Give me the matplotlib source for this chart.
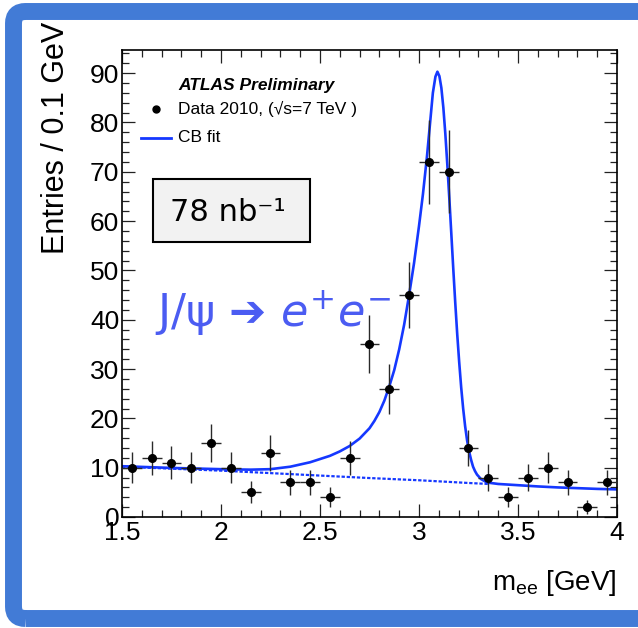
import numpy as np
import matplotlib.pyplot as plt
from matplotlib.patches import FancyBboxPatch, Rectangle
from matplotlib.ticker import MultipleLocator, FuncFormatter

plt.rcParams['font.family'] = ['Liberation Sans', 'DejaVu Sans']
plt.rcParams['mathtext.default'] = 'regular'

# data histogram (bin centres, entries, errors)
m_bins = [1.55, 1.65, 1.75, 1.85, 1.95, 2.05, 2.15, 2.25, 2.35, 2.45, 2.55, 2.65, 2.75,
          2.85, 2.95, 3.05, 3.15, 3.25, 3.35, 3.45, 3.55, 3.65, 3.75, 3.85, 3.95]
entries = [10, 12, 11, 10, 15, 10, 5, 13, 7, 7, 4, 12, 35,
           26, 45, 72, 70, 14, 8, 4, 8, 10, 7, 2, 7]
errors = [3.2, 3.5, 3.3, 3.2, 3.9, 3.2, 2.2, 3.6, 2.6, 2.6, 2.0, 3.5, 5.9,
          5.1, 6.7, 8.5, 8.4, 3.7, 2.8, 2.0, 2.8, 3.2, 2.6, 1.4, 2.6]
bin_half = 0.05

# CB fit curve
fit_m = [1.5, 1.75, 2.0, 2.15, 2.25, 2.35, 2.45, 2.55, 2.6, 2.65, 2.7, 2.75, 2.775,
         2.8, 2.825, 2.85, 2.875, 2.9, 2.925, 2.95, 2.975, 3.0, 3.02, 3.04, 3.055,
         3.07, 3.083, 3.093,
         3.103, 3.113, 3.123, 3.133, 3.143, 3.153, 3.163, 3.173, 3.183, 3.193,
         3.203, 3.213, 3.223, 3.233, 3.243, 3.253, 3.263, 3.273, 3.283, 3.293,
         3.313, 3.343, 3.4, 3.5, 3.6, 3.7, 3.8, 3.9, 4.0]
fit_y = [10.3, 9.95, 9.7, 9.6, 9.7, 10.2, 11.1, 12.4, 13.3, 14.4, 15.9, 18.0, 19.5,
         21.3, 23.6, 26.5, 29.8, 34.0, 39.0, 45.0, 51.5, 59.0, 65.5, 73.0, 79.5,
         86.0, 89.3, 90.3,
         89.4, 87.0, 83.0, 77.7, 71.5, 64.7, 57.6, 50.4, 43.5, 37.1,
         31.4, 26.3, 22.0, 18.4, 15.5, 13.3, 11.6, 10.2, 9.3, 8.6,
         7.7, 7.0, 6.7, 6.45, 6.2, 6.0, 5.85, 5.7, 5.6]

# background component (dotted)
bkg_m = [1.5, 1.75, 2.0, 2.25, 2.5, 2.75, 3.0, 3.25, 3.35]
bkg_y = [10.2, 9.8, 9.4, 8.9, 8.4, 7.9, 7.45, 6.9, 6.7]

fit_col = '#1538ff'

fig = plt.figure(figsize=(6.38, 6.28), dpi=100)

# blue rounded frame round the slide
frame = FancyBboxPatch((0.135, 0.095), 6.8 - 0.135, 6.165 - 0.095,
                       boxstyle="round,pad=0,rounding_size=0.12",
                       transform=fig.dpi_scale_trans, fc='none',
                       ec='#427bd6', lw=12.2, zorder=-1)
fig.add_artist(frame)

ax = fig.add_axes([122/638, 1 - 517/628, 495/638, 467/628])

ax.plot(fit_m, fit_y, color=fit_col, lw=1.9, zorder=2)
ax.plot(bkg_m, bkg_y, color=fit_col, lw=1.6, ls=(0, (1.5, 0.8)), zorder=2)
ax.errorbar(m_bins, entries, xerr=bin_half, yerr=errors, fmt='o', color='black',
            ms=5.5, ecolor='#2a2a2a', elinewidth=1.0, capsize=0, zorder=3)

ax.set_xlim(1.5, 4.0)
ax.set_ylim(0, 94.7)
ax.xaxis.set_major_locator(MultipleLocator(0.5))
ax.xaxis.set_minor_locator(MultipleLocator(0.1))
ax.yaxis.set_major_locator(MultipleLocator(10))
ax.yaxis.set_minor_locator(MultipleLocator(2))
ax.xaxis.set_major_formatter(FuncFormatter(lambda v, p: f"{v:g}"))
ax.tick_params(which='both', direction='in', top=True, right=True, width=0.9, color='#222222')
ax.tick_params(which='major', length=9.5, labelsize=19)
ax.tick_params(which='minor', length=5)
ax.tick_params(axis='x', pad=3)
ax.tick_params(axis='y', pad=2)
for s in ax.spines.values():
    s.set_linewidth(1.2)

fig.text(56/638, 1 - 22/628, "Entries / 0.1 GeV", rotation=90, ha='center', va='top', fontsize=22)
fig.text(616/638, 1 - 583/628, "m$_{ee}$ [GeV]", ha='right', va='center', fontsize=20)

# legend
ax.text(0.113, 0.925, "ATLAS Preliminary", transform=ax.transAxes, fontsize=12.5,
        fontweight='bold', fontstyle='italic', va='center')
ax.plot([0.0687], [0.8737], 'o', color='black', ms=5, transform=ax.transAxes, clip_on=False)
ax.text(0.113, 0.8737, "Data 2010, (\u221as=7 TeV )", transform=ax.transAxes, fontsize=12.5, va='center')
ax.plot([0.0384, 0.099], [0.8116, 0.8116], color=fit_col, lw=2, transform=ax.transAxes)
ax.text(0.113, 0.8116, "CB fit", transform=ax.transAxes, fontsize=12.5, va='center')

# luminosity box
ax.add_patch(Rectangle((0.0626, 0.589), 0.3172, 0.1348, transform=ax.transAxes,
                       fc='#f2f2f2', ec='black', lw=1.5, zorder=4))
ax.text(0.214, 0.653, "78 nb\u207b\u00b9", transform=ax.transAxes, fontsize=22,
        family='DejaVu Sans', ha='center', va='center', zorder=5)

ax.text(0.0667, 0.407, "J/\u03c8 \u2794 $\\mathit{e}^{+}\\mathit{e}^{-}$", transform=ax.transAxes,
        fontsize=32, family='DejaVu Sans', color='#4b5cf2', va='baseline', zorder=5)

fig.savefig("out.png", dpi=100)
